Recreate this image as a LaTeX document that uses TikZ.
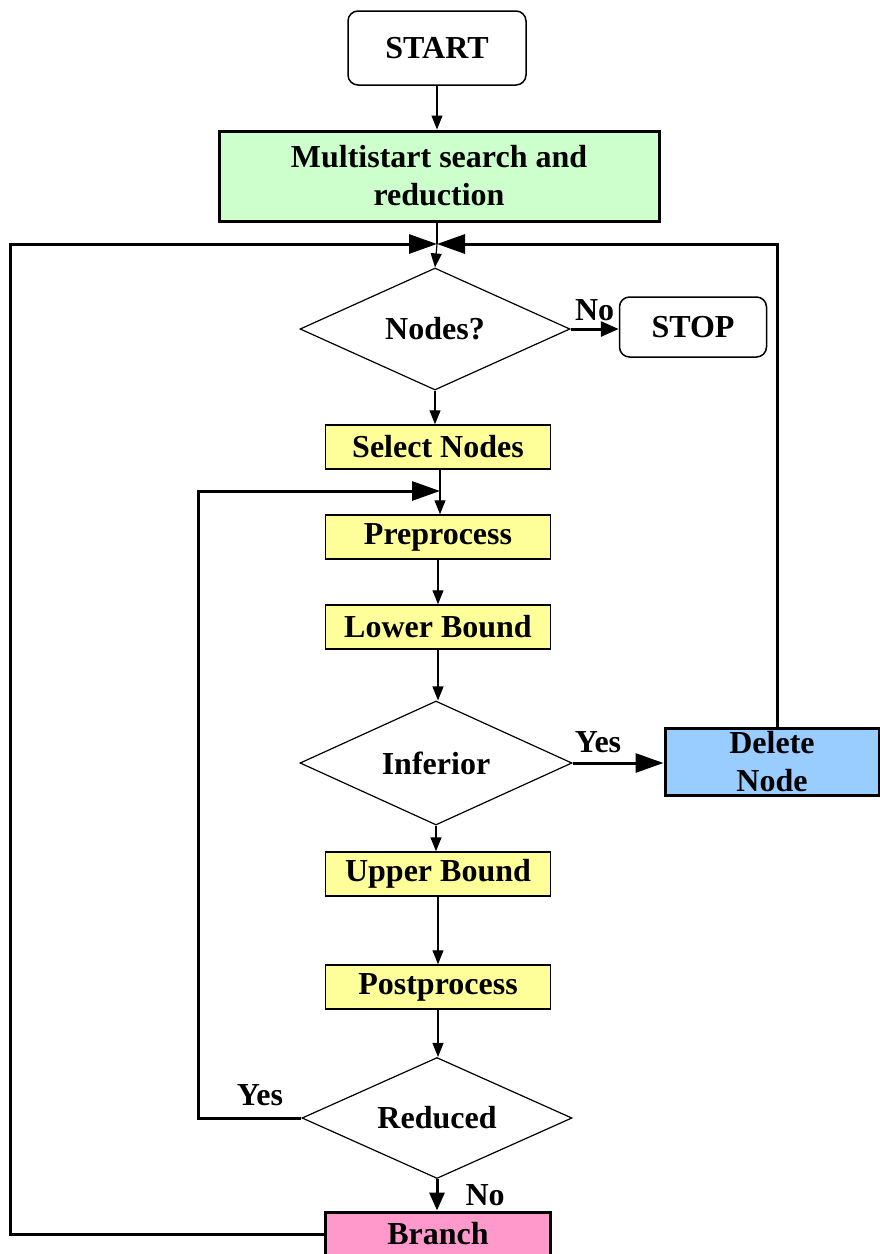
\documentclass[tikz,border=0pt]{standalone}
\usepackage{fontspec}
\setmainfont{Liberation Serif}
\usetikzlibrary{shapes.geometric,arrows.meta}
\definecolor{boxgreen}{HTML}{CCFFCC}
\definecolor{boxyellow}{HTML}{FFFF99}
\definecolor{boxblue}{HTML}{99CCFF}
\definecolor{boxpink}{HTML}{FF99CC}
\begin{document}
\begin{tikzpicture}[x=1pt,y=-1pt,
  every node/.style={font=\fontsize{32}{38}\selectfont\bfseries},
  termbox/.style={draw,line width=1.5pt,rounded corners=10pt,inner sep=0pt},
  procbox/.style={draw,line width=1.5pt,fill=boxyellow,minimum width=225pt,minimum height=44pt,inner sep=0pt},
  bigbox/.style={draw,line width=3pt,inner sep=0pt,align=center},
  decision/.style={draw,diamond,line width=1.2pt,inner sep=0pt,aspect=2.2},
  thin/.style={line width=1.2pt,-{Triangle[length=14pt,width=11pt]}},
  thick/.style={line width=3pt,-{Triangle[length=28pt,width=19pt]}},
  thickshort/.style={line width=3pt,-{Triangle[length=18pt,width=15pt]}},
  lbl/.style={inner sep=0pt}]
\useasboundingbox (0,0) rectangle (880,1254);
\node[termbox,minimum width=178pt,minimum height=74pt] (start) at (437,48) {START};
\node[bigbox,fill=boxgreen,minimum width=440pt,minimum height=90pt] (multi) at (439,176) {Multistart search and\\reduction};
\node[decision,minimum width=270pt,minimum height=122pt] (nodes) at (435,329) {Nodes?};
\node[termbox,minimum width=147pt,minimum height=60pt] (stop) at (693,327) {STOP};
\node[procbox] (select) at (438,447) {Select Nodes};
\node[procbox] (pre) at (438,537) {Preprocess};
\node[procbox] (lower) at (438,627) {Lower Bound};
\node[decision,minimum width=272pt,minimum height=124pt] (inf) at (436,763) {Inferior};
\node[bigbox,fill=boxblue,minimum width=214pt,minimum height=67pt] (del) at (772,762) {Delete\\Node};
\node[procbox] (upper) at (438,874) {Upper Bound};
\node[procbox] (post) at (438,987) {Postprocess};
\node[decision,minimum width=270pt,minimum height=121pt] (red) at (437,1118) {Reduced};
\node[procbox,line width=3pt,fill=boxpink,minimum height=44pt] (branch) at (438,1234) {Branch};
\coordinate (j1) at (437,244);
\coordinate (j2) at (440,491);
\coordinate (lt) at (10,244);
\coordinate (lb) at (10,1234);
\coordinate (rt) at (777,244);
\coordinate (mt) at (198,491);
\coordinate (mb) at (198,1118);
% thin arrows
\draw[thin] (start.south) -- (start.south |- multi.north);
\draw[line width=1.2pt] (j1 |- multi.south) -- (j1);
\draw[thin] (j1) -- (nodes.north);
\draw[thin] (nodes.south) -- (nodes.south |- select.north);
\draw[line width=1.2pt] (j2 |- select.south) -- (j2);
\draw[thin] (j2) -- (j2 |- pre.north);
\draw[thin] (pre.south) -- (lower.north);
\draw[thin] (lower.south) -- (lower.south |- inf.north);
\draw[thin] (inf.south) -- (inf.south |- upper.north);
\draw[thin] (upper.south) -- (post.north);
\draw[thin] (post.south) -- (post.south |- red.north);
% thick arrows
\draw[thickshort] (nodes.east) -- (nodes.east -| stop.west) node[lbl,midway,above=7pt] {No};
\draw[thick] (inf.east) -- (inf.east -| del.west) node[lbl,pos=0.28,above=9pt] {Yes};
\draw[thickshort] (red.south) -- (red.south |- branch.north) node[lbl,midway,right=27pt] {No};
\draw[thick] (branch.west) -- (lb) -- (lt) -- (j1);
\draw[thick] ([xshift=5pt]del.north) -- (rt) -- (j1);
\draw[thick] (red.west) -- (mb) -- (mt) -- (j2);
\node[lbl] (yes2) at (260,1095) {Yes};
\end{tikzpicture}
\end{document}
